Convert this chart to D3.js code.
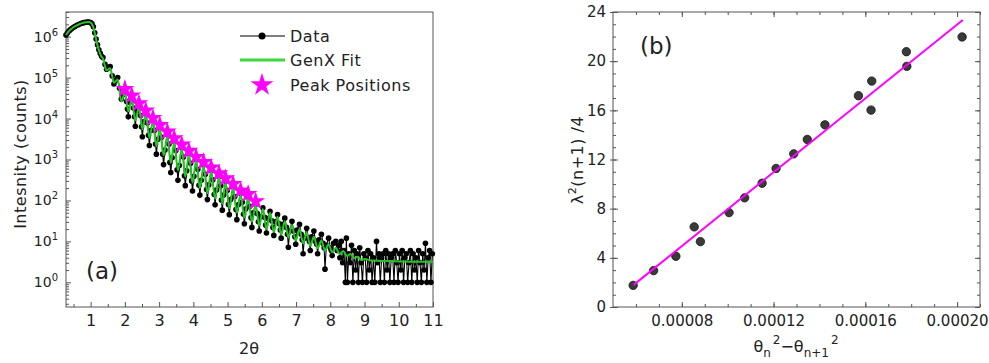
<!DOCTYPE html>
<html>
<head>
<meta charset="utf-8">
<script src="https://cdn.jsdelivr.net/npm/d3@7"></script>
<style>
  body { margin: 0; background: #fff; }
  text { font-family: "DejaVu Sans", Verdana, sans-serif; fill: #222; }
</style>
</head>
<body>
<svg id="chart" width="989" height="363"></svg>
<script>
// ---- panel (a): reflectivity, [2theta, counts] ----
var dataPts = [
  [0.28,1.10e6],[0.32,1.22e6],[0.36,1.35e6],[0.40,1.46e6],[0.45,1.58e6],[0.50,1.70e6],
  [0.55,1.80e6],[0.60,1.90e6],[0.65,1.98e6],[0.70,2.06e6],[0.75,2.14e6],[0.80,2.20e6],
  [0.85,2.25e6],[0.90,2.28e6],[0.95,2.28e6],[1.00,2.22e6],[1.04,2.05e6],[1.08,1.75e6],
  [1.12,1.25e6],[1.16,8.8e5],[1.20,6.3e5],[1.24,4.8e5],[1.28,3.9e5],[1.32,3.3e5],
  [1.36,3.1e5],[1.42,2.1e5],[1.465,1.6e5],[1.52,1.75e5],
  [1.57,1.85e5],[1.63,1.1e5],[1.68,7.0e4],[1.73,8.5e4],
  [1.79,1.0e5],[1.845,5.5e4],[1.895,3.0e4],[1.94,3.8e4],
  [2.00,45000],[2.05,26000],[2.075,17000],[2.10,11000],[2.14,25000],
  [2.20,31000],[2.25,18000],[2.28,11000],[2.305,6500],[2.345,15000],
  [2.41,20000],[2.46,11800],[2.485,6300],[2.51,3600],[2.55,8300],
  [2.61,13300],[2.66,7800],[2.69,3900],[2.715,2200],[2.755,5100],
  [2.82,8800],[2.87,5200],[2.895,2400],[2.92,1350],[2.96,3100],
  [3.02,5900],[3.07,3500],[3.105,1350],[3.13,750],[3.17,1700],
  [3.24,4100],[3.29,2400],[3.315,850],[3.34,480],[3.38,1100],
  [3.44,2800],[3.49,1650],[3.525,560],[3.55,310],[3.59,710],
  [3.66,1960],[3.71,1150],[3.74,400],[3.765,230],[3.805,530],
  [3.87,1380],[3.92,810],[3.95,300],[3.975,170],[4.015,390],
  [4.08,980],[4.13,580],[4.165,235],[4.19,135],[4.23,310],
  [4.30,740],[4.35,435],[4.385,185],[4.41,105],[4.45,240],
  [4.52,540],[4.57,320],[4.61,140],[4.635,78],[4.675,180],
  [4.75,390],[4.80,230],[4.82,102],[4.845,58],[4.885,135],
  [4.94,295],[4.99,175],[5.025,80],[5.05,45],[5.09,105],
  [5.16,215],[5.21,125],[5.245,60],[5.27,34],[5.31,78],
  [5.38,150],[5.43,90],[5.465,46],[5.49,27],[5.53,62],
  [5.60,122],[5.65,72],[5.685,38],[5.71,22],[5.75,50],
  [5.82,81],[5.87,48],[5.90,30],[5.925,18],[5.965,40],
  [6.03,66],[6.08,39],[6.11,25],[6.135,16],[6.175,36],
  [6.24,54],[6.29,32],[6.325,22],[6.35,14],[6.39,30],
  [6.46,45],[6.51,27],[6.54,19],[6.565,12],[6.605,26],
  [6.67,37],[6.72,22],[6.75,15],[6.775,7.2],[6.815,18],
  [6.88,31],[6.93,18],[6.965,13],[6.99,8.5],[7.03,19],
  [7.10,26],[7.15,15],[7.18,11],[7.205,5],[7.245,12],
  [7.31,21],[7.36,12],[7.39,10],[7.415,6],[7.455,13],
  [7.52,18],[7.57,10],[7.605,8.5],[7.63,5],[7.67,11],
  [7.74,15],[7.79,9],[7.82,7],[7.845,2.1],[7.885,8],
  [7.95,12],[8.00,7],[8.03,6],[8.055,4.5],[8.095,9],
  [8.16,10],[8.20,6],
  [8.24,8],[8.28,4],[8.32,10],[8.36,3],[8.40,6],[8.44,1],[8.47,12],[8.50,1],
  [8.54,5],[8.58,3],[8.62,8],[8.66,1],[8.70,6],[8.74,2],[8.78,5],[8.82,1],
  [8.86,7],[8.90,3],[8.94,1],[8.98,5],[9.02,4],[9.06,1],[9.10,6],[9.14,2],
  [9.18,5],[9.22,1],[9.26,4],[9.30,1],[9.35,10],[9.38,3],[9.42,5],[9.46,1],
  [9.50,4],[9.54,5],[9.58,1],[9.62,6],[9.66,2],[9.70,5],[9.74,1],[9.78,4],
  [9.82,5],[9.86,1],[9.90,6],[9.94,3],[9.98,1],[10.02,5],[10.06,2],[10.10,6],
  [10.14,1],[10.18,4],[10.22,5],[10.26,1],[10.30,3],[10.34,6],[10.38,1],[10.42,5],
  [10.46,2],[10.50,4],[10.54,1],[10.58,6],[10.62,3],[10.66,1],[10.70,5],[10.74,2],
  [10.78,9],[10.82,1],[10.86,4],[10.90,6],[10.94,1],[10.98,5]
];

var fitPts = [
  [0.28,1.10e6],[0.36,1.35e6],[0.45,1.58e6],[0.55,1.80e6],[0.65,1.98e6],[0.75,2.14e6],
  [0.85,2.25e6],[0.95,2.27e6],[1.00,2.2e6],[1.04,2.02e6],[1.08,1.7e6],[1.12,1.22e6],
  [1.16,8.6e5],[1.20,6.2e5],[1.24,4.7e5],[1.30,3.4e5],
  [1.36,2.9e5],[1.465,1.5e5],[1.57,1.7e5],[1.68,7.5e4],[1.79,9.0e4],[1.895,2.6e4],
  [2.00,42000],[2.10,15000],[2.20,29000],[2.305,9000],[2.41,19000],[2.51,5500],
  [2.61,12500],[2.715,3400],[2.82,8300],[2.92,2100],[3.02,5600],[3.13,1250],
  [3.24,3800],[3.34,820],[3.44,2600],[3.55,540],[3.66,1850],[3.765,380],
  [3.87,1300],[3.975,270],[4.08,920],[4.19,200],[4.30,700],[4.41,150],
  [4.52,500],[4.635,110],[4.75,370],[4.845,82],[4.94,280],[5.05,64],
  [5.16,200],[5.27,50],[5.38,140],[5.49,38],[5.60,115],[5.71,30],
  [5.82,76],[5.925,24],[6.03,62],[6.135,20],[6.24,50],[6.35,17],
  [6.46,40],[6.565,14.5],[6.67,31],[6.775,12.5],[6.88,25],[6.99,10.5],
  [7.10,20],[7.205,9],[7.31,16.5],[7.415,7.8],[7.52,13],[7.63,6.8],
  [7.74,10.5],[7.845,6],[7.95,8.5],[8.055,5.4],[8.16,7],[8.27,4.9],
  [8.38,5.8],[8.485,4.4],[8.59,4.9],[8.695,3.9],[8.80,4.2],[8.905,3.5],
  [9.01,3.7],[9.2,3.4],[9.6,3.3],[10.0,3.25],[10.5,3.2],[11.0,3.2]
];

var peakX = [2.00,2.20,2.41,2.61,2.82,3.02,3.24,3.44,3.66,3.87,4.08,4.30,4.52,4.75,4.94,5.16,5.38,5.60,5.82];
var peakI = [52800,36200,23500,15600,10350,6980,4790,3290,2310,1620,1155,871,632,459,347,253,174,144,95];

var decadeTicks = [1, 10, 100, 1e3, 1e4, 1e5, 1e6];
var legendLabels = ['Data', 'GenX Fit', 'Peak Positions'];

// ---- panel (b): lambda^2(n+1)/4 vs theta_n^2 - theta_n+1^2 ----
var bX = [0.0000588,0.0000677,0.0000774,0.0000854,0.0000881,0.0001006,0.0001074,0.0001150,
          0.0001211,0.0001288,0.0001347,0.0001424,0.0001570,0.0001625,0.0001628,0.0001779,
          0.0001781,0.0002022];
var bY = [1.76,2.96,4.13,6.52,5.32,7.68,8.88,10.07,11.27,12.46,13.63,14.82,17.19,16.02,18.38,
          20.77,19.58,21.97];
var lineBX = [0.0000590, 0.0002025];
var lineBY = [1.80, 23.35];
var bXTicks = [0.00008, 0.00012, 0.00016, 0.00020];
var bYTicks = [0, 4, 8, 12, 16, 20, 24];

var svg = d3.select('#chart');
var green = '#25c425', magenta = '#ff00ff', frame = '#555';

function tidy(g, size) {
  g.select('.domain').remove();
  g.selectAll('.tick line').attr('stroke', frame);
  g.selectAll('.tick text').attr('font-size', size || 16).attr('fill', '#222');
}

// ================= panel (a) =================
var xA = d3.scaleLinear().domain([0.28, 11]).range([66, 433]);
var yA = d3.scaleLog().domain([0.25, 4e6]).range([307, 12]);
var gA = svg.append('g');

gA.append('g').attr('transform', 'translate(0,307)')
  .call(d3.axisBottom(xA).tickValues(d3.range(1, 12)).tickSize(-5).tickSizeOuter(0).tickPadding(8))
  .call(tidy);
gA.append('g').attr('transform', 'translate(0,307)')
  .call(d3.axisBottom(xA).tickValues(d3.range(0.5, 11, 1)).tickSize(-3).tickSizeOuter(0).tickFormat(''))
  .call(tidy);

gA.append('g').attr('transform', 'translate(66,0)')
  .call(d3.axisLeft(yA).tickValues(decadeTicks).tickSize(-5).tickSizeOuter(0).tickPadding(8).tickFormat(''))
  .call(tidy, 14)
  .call(function (g) {
    g.selectAll('.tick text').each(function (d) {
      var t = d3.select(this);
      t.append('tspan').text('10');
      t.append('tspan').attr('font-size', 10).attr('dy', '-0.6em').text(Math.round(Math.log10(d)));
    });
  });
var minorY = yA.ticks().filter(function (v) {
  var e = Math.log10(v); return Math.abs(e - Math.round(e)) > 1e-6;
});
gA.append('g').attr('transform', 'translate(66,0)')
  .call(d3.axisLeft(yA).tickValues(minorY).tickSize(-3).tickSizeOuter(0).tickFormat(''))
  .call(tidy);

gA.append('rect').attr('x', 66).attr('y', 12).attr('width', 367).attr('height', 295)
  .attr('fill', 'none').attr('stroke', frame);

var lineA = d3.line().x(function (d) { return xA(d[0]); }).y(function (d) { return yA(d[1]); });

gA.append('path').datum(dataPts).attr('d', lineA)
  .attr('fill', 'none').attr('stroke', '#000').attr('stroke-width', 1.1);
gA.append('g').selectAll('circle').data(dataPts).join('circle')
  .attr('cx', function (d) { return xA(d[0]); })
  .attr('cy', function (d) { return yA(d[1]); })
  .attr('r', 2.8).attr('fill', '#000');

gA.append('path').datum(fitPts).attr('d', lineA.curve(d3.curveMonotoneX))
  .attr('fill', 'none').attr('stroke', green).attr('stroke-width', 2);

var star = d3.symbol().type(d3.symbolStar).size(110);
gA.append('g').selectAll('path').data(peakX).join('path')
  .attr('d', star)
  .attr('transform', function (d, i) { return 'translate(' + xA(d) + ',' + yA(peakI[i]) + ')'; })
  .attr('fill', magenta);

// legend
var lg = gA.append('g');
lg.append('line').attr('x1', 240).attr('x2', 285).attr('y1', 36).attr('y2', 36)
  .attr('stroke', '#000').attr('stroke-width', 1);
lg.append('circle').attr('cx', 262).attr('cy', 36).attr('r', 3.5).attr('fill', '#000');
lg.append('line').attr('x1', 240).attr('x2', 285).attr('y1', 60).attr('y2', 60)
  .attr('stroke', '#3ad83a').attr('stroke-width', 3);
lg.append('path').attr('d', d3.symbol().type(d3.symbolStar).size(160))
  .attr('transform', 'translate(262,85)').attr('fill', magenta);
lg.selectAll('text').data(legendLabels).join('text')
  .attr('x', 290).attr('y', function (d, i) { return 36 + i * 24.5; })
  .attr('dy', '0.36em').attr('font-size', 16).attr('letter-spacing', 0.5)
  .text(function (d) { return d; });

gA.append('text').attr('x', 86).attr('y', 279).attr('font-size', 23).text('(a)');
gA.append('text').attr('x', 249).attr('y', 354).attr('text-anchor', 'middle')
  .attr('font-size', 16).text('2θ');
gA.append('text').attr('transform', 'translate(26,154) rotate(-90)')
  .attr('text-anchor', 'middle').attr('font-size', 16).attr('letter-spacing', 0.5)
  .text('Intesnity (counts)');

// ================= panel (b) =================
var xB = d3.scaleLinear().domain([0.00005, 0.00021]).range([613, 980]);
var yB = d3.scaleLinear().domain([0, 24]).range([307, 12]);
var gB = svg.append('g');
var xMinor = d3.range(6, 22).map(function (v) { return v * 1e-5; });
var yMinor = d3.range(0, 25);

gB.append('g').attr('transform', 'translate(0,307)')
  .call(d3.axisBottom(xB).tickValues(bXTicks).tickSize(-5).tickSizeOuter(0).tickPadding(8)
    .tickFormat(d3.format('.5f')))
  .call(tidy, 15);
gB.append('g').attr('transform', 'translate(0,307)')
  .call(d3.axisBottom(xB).tickValues(xMinor).tickSize(-3).tickSizeOuter(0).tickFormat(''))
  .call(tidy);
gB.append('g').attr('transform', 'translate(0,12)')
  .call(d3.axisTop(xB).tickValues(bXTicks).tickSize(-5).tickSizeOuter(0).tickFormat(''))
  .call(tidy);
gB.append('g').attr('transform', 'translate(0,12)')
  .call(d3.axisTop(xB).tickValues(xMinor).tickSize(-3).tickSizeOuter(0).tickFormat(''))
  .call(tidy);

gB.append('g').attr('transform', 'translate(613,0)')
  .call(d3.axisLeft(yB).tickValues(bYTicks).tickSize(-5).tickSizeOuter(0).tickPadding(7))
  .call(tidy, 15);
gB.append('g').attr('transform', 'translate(613,0)')
  .call(d3.axisLeft(yB).tickValues(bYTicks).tickSize(3).tickSizeOuter(0).tickFormat(''))
  .call(tidy);
gB.append('g').attr('transform', 'translate(613,0)')
  .call(d3.axisLeft(yB).tickValues(yMinor).tickSize(-3).tickSizeOuter(0).tickFormat(''))
  .call(tidy);
gB.append('g').attr('transform', 'translate(980,0)')
  .call(d3.axisRight(yB).tickValues(bYTicks).tickSize(-5).tickSizeOuter(0).tickFormat(''))
  .call(tidy);
gB.append('g').attr('transform', 'translate(980,0)')
  .call(d3.axisRight(yB).tickValues(yMinor).tickSize(-3).tickSizeOuter(0).tickFormat(''))
  .call(tidy);

gB.append('rect').attr('x', 613).attr('y', 12).attr('width', 367).attr('height', 295)
  .attr('fill', 'none').attr('stroke', frame);

gB.append('g').selectAll('circle').data(bX).join('circle')
  .attr('cx', function (d) { return xB(d); })
  .attr('cy', function (d, i) { return yB(bY[i]); })
  .attr('r', 4.2).attr('fill', '#3a3a3a').attr('stroke', '#111').attr('stroke-width', 0.8);

gB.append('line')
  .attr('x1', xB(lineBX[0])).attr('y1', yB(lineBY[0]))
  .attr('x2', xB(lineBX[1])).attr('y2', yB(lineBY[1]))
  .attr('stroke', magenta).attr('stroke-width', 2);

gB.append('text').attr('x', 640).attr('y', 54).attr('font-size', 23).text('(b)');

var yl = gB.append('text').attr('transform', 'translate(583,160) rotate(-90)')
  .attr('text-anchor', 'middle').attr('font-size', 16).attr('letter-spacing', 0.5);
yl.append('tspan').text('λ');
yl.append('tspan').attr('font-size', 11).attr('dy', -7).text('2');
yl.append('tspan').attr('dy', 7).text('(n+1) /4');

var xl = gB.append('text').attr('x', 796).attr('y', 352)
  .attr('text-anchor', 'middle').attr('font-size', 16);
xl.append('tspan').text('θ');
xl.append('tspan').attr('font-size', 12).attr('dy', 5).text('n');
xl.append('tspan').attr('font-size', 12).attr('dy', -13).attr('dx', 2).text('2');
xl.append('tspan').attr('dy', 8).text('−θ');
xl.append('tspan').attr('font-size', 12).attr('dy', 5).text('n+1');
xl.append('tspan').attr('font-size', 12).attr('dy', -13).attr('dx', 2).text('2');
</script>
</body>
</html>
